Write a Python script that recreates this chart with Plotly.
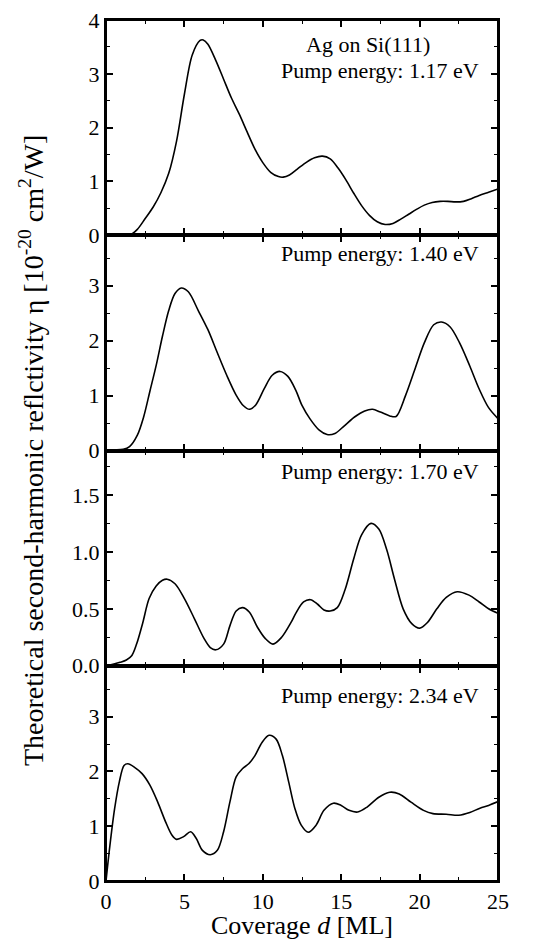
import plotly.graph_objects as go
from plotly.subplots import make_subplots

# ---- data (coverage d in ML, reflectivity in 1e-20 cm^2/W) ----
d1 = [0, 1.0, 1.5, 2.0, 2.5, 3.0, 3.5, 4.0, 4.5, 5.0, 5.5, 6.0, 6.2, 6.5, 7.0, 7.5, 8.0, 8.5, 9.0,
      9.5, 10.0, 10.5, 11.0, 11.3, 11.7, 12.2, 12.8, 13.3, 13.8, 14.3, 14.8, 15.3, 15.8, 16.3,
      16.8, 17.3, 17.8, 18.3, 18.8, 19.3, 19.8, 20.3, 20.8, 21.3, 21.8, 22.3, 22.8, 23.3, 23.8,
      24.4, 25.0]
e117 = [0, 0, 0, 0.11, 0.31, 0.52, 0.79, 1.15, 1.75, 2.62, 3.35, 3.62, 3.63, 3.55, 3.25, 2.9,
        2.55, 2.25, 1.92, 1.6, 1.35, 1.17, 1.09, 1.08, 1.12, 1.23, 1.36, 1.44, 1.47, 1.42, 1.25,
        1.03, 0.78, 0.55, 0.37, 0.25, 0.2, 0.22, 0.3, 0.39, 0.48, 0.56, 0.61, 0.63, 0.63, 0.62,
        0.63, 0.68, 0.74, 0.8, 0.86]

d2 = [0, 0.5, 1.1, 1.5, 2.0, 2.4, 2.8, 3.2, 3.6, 4.0, 4.4, 4.8, 5.25, 5.9, 6.5, 7.1, 7.7, 8.3,
      8.75, 9.15, 9.55, 10.1, 10.6, 11.1, 11.6, 12.1, 12.5, 13.0, 13.6, 14.1, 14.6, 15.2, 15.85,
      16.5, 17.0, 17.5, 18.1, 18.5, 19.1, 19.7, 20.3, 20.9, 21.4, 21.95, 22.55, 23.2, 23.8,
      24.4, 25.0]
e140 = [0, 0.01, 0.02, 0.07, 0.28, 0.61, 1.08, 1.55, 2.08, 2.55, 2.86, 2.96, 2.89, 2.54, 2.2,
        1.78, 1.37, 1.01, 0.82, 0.75, 0.83, 1.13, 1.37, 1.44, 1.35, 1.1, 0.82, 0.58, 0.37, 0.29,
        0.31, 0.45, 0.61, 0.72, 0.75, 0.7, 0.63, 0.62, 1.0, 1.48, 1.96, 2.29, 2.34, 2.25, 1.96,
        1.54, 1.12, 0.78, 0.58]

d3 = [0, 0.5, 0.9, 1.3, 1.65, 1.95, 2.35, 2.75, 3.2, 3.6, 3.9, 4.4, 5.0, 5.65, 6.25, 6.65, 7.0,
      7.5, 7.9, 8.3, 8.7, 9.15, 9.65, 10.15, 10.65, 11.2, 11.8, 12.1, 12.6, 13.05, 13.5, 13.9,
      14.3, 14.75, 15.25, 15.8, 16.3, 16.9, 17.4, 17.9, 18.4, 18.95, 19.5, 20.0, 20.5, 21.1,
      21.7, 22.4, 23.15, 23.8, 24.4, 25.0]
e170 = [0.0, 0.015, 0.03, 0.05, 0.09, 0.19, 0.38, 0.59, 0.7, 0.75, 0.76, 0.72, 0.59, 0.41, 0.24,
        0.16, 0.14, 0.19, 0.35, 0.48, 0.51, 0.47, 0.34, 0.24, 0.19, 0.25, 0.38, 0.46, 0.56, 0.58,
        0.54, 0.49, 0.48, 0.51, 0.67, 0.94, 1.15, 1.25, 1.2, 1.02, 0.76, 0.5, 0.37, 0.33, 0.38,
        0.5, 0.6, 0.65, 0.62, 0.56, 0.5, 0.46]

d4 = [0, 0.25, 0.55, 0.85, 1.15, 1.4, 1.8, 2.3, 2.8, 3.3, 3.8, 4.2, 4.5, 4.95, 5.4, 5.75, 6.15,
      6.65, 7.1, 7.5, 7.9, 8.3, 8.7, 9.1, 9.5, 9.95, 10.4, 10.85, 11.25, 11.65, 12.05, 12.45,
      12.9, 13.4, 13.9, 14.5, 15.0, 15.5, 16.05, 16.65, 17.4, 18.1, 18.7, 19.45, 20.25, 20.85,
      21.7, 22.5, 23.2, 23.85, 24.4, 25.0]
e234 = [0, 0.65, 1.32, 1.81, 2.11, 2.14, 2.08, 1.96, 1.75, 1.44, 1.08, 0.84, 0.76, 0.81, 0.9,
        0.78, 0.56, 0.48, 0.56, 0.9, 1.44, 1.9, 2.05, 2.14, 2.29, 2.53, 2.66, 2.59, 2.29, 1.81,
        1.32, 1.02, 0.89, 1.02, 1.29, 1.42, 1.38, 1.29, 1.26, 1.35, 1.53, 1.62, 1.59, 1.44,
        1.29, 1.23, 1.22, 1.2, 1.25, 1.33, 1.38, 1.45]

series = [(d1, e117), (d2, e140), (d3, e170), (d4, e234)]
labels = ["Pump energy: 1.17 eV", "Pump energy: 1.40 eV",
          "Pump energy: 1.70 eV", "Pump energy: 2.34 eV"]
y_ranges = [[0, 4.0], [0, 3.92], [0, 1.89], [0, 3.93]]
y_dticks = [1, 1, 0.5, 1]
x_range = [0, 25]

FONT = "Liberation Serif, Times New Roman, DejaVu Serif, serif"

fig = make_subplots(rows=4, cols=1, shared_xaxes=True, vertical_spacing=0)

for i, (xs, ys) in enumerate(series):
    fig.add_trace(go.Scatter(x=xs, y=ys, mode="lines",
                             line=dict(color="black", width=1.6, shape="spline", smoothing=0.9),
                             showlegend=False, hoverinfo="skip"), row=i + 1, col=1)

major = dict(showline=True, linecolor="black", linewidth=2, mirror="ticks",
             ticks="inside", ticklen=7, tickwidth=1.5, tickcolor="black",
             showgrid=False, zeroline=False, ticklabeloverflow="allow",
             tickfont=dict(family=FONT, size=22, color="black"))
minor_ax = dict(showline=False, mirror="ticks", ticks="inside", ticklen=4, tickwidth=1.2,
                tickcolor="black", showgrid=False, zeroline=False, showticklabels=False)

for i in range(4):
    xm = "x" if i == 0 else f"x{i + 1}"
    ym = "y" if i == 0 else f"y{i + 1}"
    fig.update_yaxes(range=y_ranges[i], tickmode="linear", dtick=y_dticks[i], tick0=0,
                     tickformat=".1f" if i == 2 else "d", **major, row=i + 1, col=1)
    fig.update_xaxes(range=x_range, tickmode="linear", tick0=0, dtick=5,
                     **major, row=i + 1, col=1)
    # overlay axes carrying the short (minor) ticks
    xo = f"x{i + 5}"
    yo = f"y{i + 5}"
    fig.add_trace(go.Scatter(x=[None], y=[None], xaxis=xm, yaxis=yo, showlegend=False,
                             hoverinfo="skip"))
    fig.add_trace(go.Scatter(x=[None], y=[None], xaxis=xo, yaxis=ym, showlegend=False,
                             hoverinfo="skip"))
    fig.update_layout(**{
        f"yaxis{i + 5}": dict(overlaying=ym, side="left", anchor=xm, range=y_ranges[i],
                              tickmode="linear", dtick=y_dticks[i] / 2, tick0=0, **minor_ax),
        f"xaxis{i + 5}": dict(overlaying=xm, side="bottom", anchor=ym, range=x_range,
                              tickmode="linear", dtick=2.5, tick0=0, **minor_ax),
    })
    fig.add_shape(type="rect", xref=f"{xm} domain", yref=f"{ym} domain",
                  x0=0, x1=1, y0=0, y1=1, line=dict(color="black", width=2),
                  fillcolor="rgba(0,0,0,0)", layer="above")

fig.update_xaxes(title=dict(text="Coverage <i>d</i> [ML]",
                            font=dict(family=FONT, size=26, color="black"), standoff=5),
                 row=4, col=1)

# panel annotations
ann_y = [3.06, 3.58, 1.71, 3.39]
for i, lab in enumerate(labels):
    fig.add_annotation(text=lab, x=23.9, y=ann_y[i], xref=f"x{i + 1 if i else ''}",
                       yref=f"y{i + 1 if i else ''}", xanchor="right", yanchor="middle",
                       showarrow=False, font=dict(family=FONT, size=22, color="black"))
fig.add_annotation(text="Ag on Si(111)", x=16.7, y=3.55, xref="x", yref="y",
                   xanchor="center", yanchor="middle", showarrow=False,
                   font=dict(family=FONT, size=22, color="black"))

fig.add_annotation(text="Theoretical second-harmonic reflctivity η [10<sup>-20</sup> cm<sup>2</sup>/W]",
                   textangle=-90, x=-0.19, y=0.5, xref="paper", yref="paper",
                   xanchor="center", yanchor="middle", showarrow=False,
                   font=dict(family=FONT, size=28, color="black"))

fig.update_layout(width=523, height=932, margin=dict(l=98, r=33, t=0, b=59),
                  paper_bgcolor="white", plot_bgcolor="white",
                  font=dict(family=FONT, color="black"))

fig.write_html("out.html")
